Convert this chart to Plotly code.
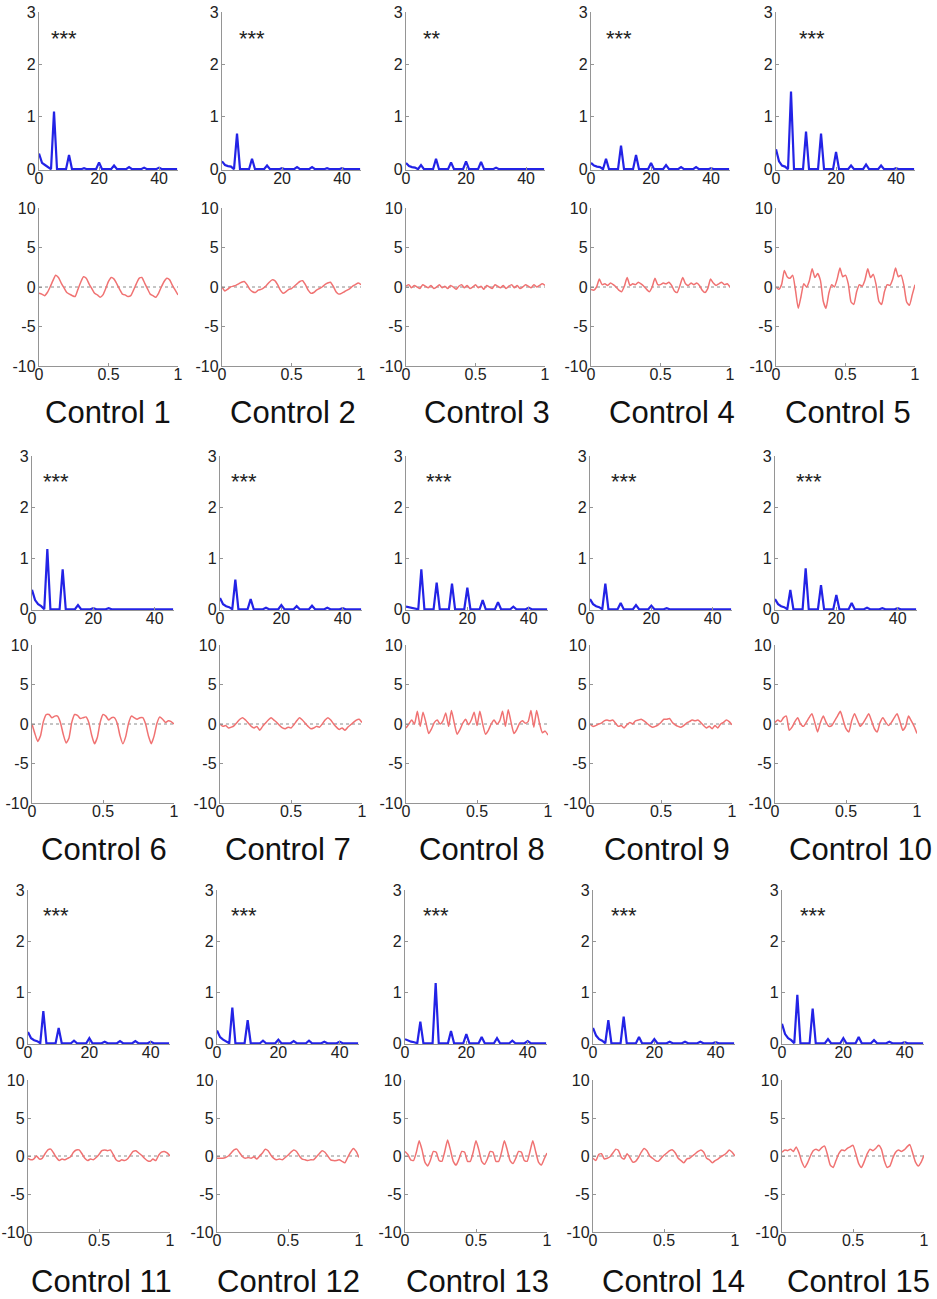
import numpy as np
import plotly.graph_objects as go

# ---------------- DATA ----------------
CONTROLS = ["Control %d" % i for i in range(1, 16)]
SIGNIF = ["***", "***", "**", "***", "***",
          "***", "***", "***", "***", "***",
          "***", "***", "***", "***", "***"]

HARMONICS = [5, 10, 15, 20, 25, 30, 35, 40]   # Hz
LOW_FREQS = [0, 1, 2, 3]                       # Hz
FREQ_GRID = list(range(0, 47))                 # Hz, spectrum sampling
TIME_GRID = np.linspace(0, 1, 51)              # s, waveform sampling

# spectrum amplitude at 0..3 Hz
low_c1 = [0.30, 0.12, 0.08, 0.04]
low_c2 = [0.15, 0.08, 0.06, 0.05]
low_c3 = [0.12, 0.06, 0.04, 0.03]
low_c4 = [0.12, 0.07, 0.05, 0.04]
low_c5 = [0.38, 0.15, 0.07, 0.05]
low_c6 = [0.38, 0.18, 0.10, 0.06]
low_c7 = [0.22, 0.10, 0.06, 0.04]
low_c8 = [0.05, 0.04, 0.03, 0.02]
low_c9 = [0.20, 0.10, 0.06, 0.04]
low_c10 = [0.20, 0.10, 0.06, 0.04]
low_c11 = [0.22, 0.10, 0.06, 0.04]
low_c12 = [0.25, 0.12, 0.07, 0.04]
low_c13 = [0.08, 0.05, 0.03, 0.02]
low_c14 = [0.30, 0.15, 0.08, 0.05]
low_c15 = [0.38, 0.18, 0.10, 0.06]

# spectrum amplitude at the harmonics 5..40 Hz
peaks_c1 = [1.10, 0.27, 0.02, 0.13, 0.07, 0.04, 0.03, 0.03]
peaks_c2 = [0.68, 0.20, 0.07, 0.02, 0.04, 0.04, 0.02, 0.02]
peaks_c3 = [0.08, 0.20, 0.13, 0.15, 0.14, 0.03, 0.01, 0.01]
peaks_c4 = [0.20, 0.45, 0.27, 0.12, 0.08, 0.04, 0.04, 0.02]
peaks_c5 = [1.48, 0.72, 0.68, 0.33, 0.07, 0.09, 0.07, 0.02]
peaks_c6 = [1.18, 0.78, 0.08, 0.02, 0.02, 0.01, 0.01, 0.01]
peaks_c7 = [0.58, 0.20, 0.03, 0.08, 0.06, 0.07, 0.03, 0.02]
peaks_c8 = [0.78, 0.52, 0.50, 0.42, 0.18, 0.14, 0.05, 0.03]
peaks_c9 = [0.50, 0.12, 0.08, 0.07, 0.02, 0.01, 0.01, 0.01]
peaks_c10 = [0.38, 0.80, 0.47, 0.28, 0.12, 0.03, 0.02, 0.02]
peaks_c11 = [0.63, 0.30, 0.05, 0.10, 0.03, 0.04, 0.04, 0.03]
peaks_c12 = [0.70, 0.45, 0.05, 0.07, 0.04, 0.05, 0.03, 0.03]
peaks_c13 = [0.42, 1.18, 0.24, 0.18, 0.12, 0.10, 0.05, 0.04]
peaks_c14 = [0.45, 0.52, 0.12, 0.08, 0.03, 0.03, 0.03, 0.02]
peaks_c15 = [0.95, 0.68, 0.08, 0.10, 0.12, 0.06, 0.03, 0.02]

# time-domain waveforms (51 samples over 0..1 s)
wave_c1 = [-0.8, -0.9, -1.1, -0.7, 0.0, 0.8, 1.5, 1.2, 0.5, -0.1,
           -0.7, -0.9, -1.1, -1.2, -0.3, 0.6, 1.3, 1.1, 0.4, -0.2,
           -0.8, -1.0, -1.3, -1.0, -0.2, 0.7, 1.2, 1.0, 0.4, -0.3,
           -0.9, -1.0, -1.2, -1.1, -0.4, 0.4, 1.1, 1.2, 0.5, -0.2,
           -0.9, -1.1, -1.3, -0.8, 0.0, 0.7, 1.1, 0.9, 0.2, -0.4,
           -1.0]
wave_c2 = [0.0, -0.5, -0.3, 0.0, 0.1, 0.2, 0.4, 0.6, 0.7, 0.3,
           -0.3, -0.6, -0.7, -0.4, -0.3, -0.1, 0.2, 0.6, 0.9, 0.8,
           0.3, -0.4, -0.8, -0.6, -0.3, -0.2, 0.1, 0.4, 0.7, 0.8,
           0.3, -0.4, -0.8, -0.7, -0.4, -0.2, 0.0, 0.3, 0.5, 0.6,
           0.1, -0.6, -0.9, -0.8, -0.6, -0.4, -0.2, 0.1, 0.3, 0.5,
           0.3]
wave_c3 = [0.1, 0.3, -0.1, 0.2, 0.0, -0.2, 0.3, 0.1, -0.1, 0.2,
           -0.2, 0.0, 0.3, -0.1, 0.1, -0.2, 0.2, 0.0, -0.3, 0.1,
           0.3, -0.1, 0.2, -0.2, 0.0, 0.3, -0.1, 0.1, -0.3, 0.2,
           0.0, -0.2, 0.3, 0.1, -0.1, 0.2, -0.2, 0.1, 0.3, -0.1,
           0.2, -0.2, 0.0, 0.3, 0.1, -0.1, 0.3, 0.0, 0.2, 0.4,
           0.2]
wave_c4 = [-0.3, -0.4, 0.0, 1.0, 0.3, 0.4, 0.2, 0.5, 0.3, 0.0,
           -0.4, -0.6, 0.1, 1.2, 0.2, 0.4, 0.3, 0.6, 0.4, 0.1,
           -0.3, -0.6, 0.0, 1.1, 0.3, 0.3, 0.5, 0.4, 0.6, 0.2,
           -0.5, -0.7, 0.2, 1.2, 0.4, 0.2, 0.5, 0.3, 0.5, 0.2,
           -0.4, -0.7, -0.2, 1.0, 0.5, 0.2, 0.4, 0.6, 0.3, 0.4,
           0.0]
wave_c5 = [0.0, -0.3, 0.3, 2.1, 1.3, 1.1, 1.5, -0.4, -2.7, -1.2,
           0.4, 0.0, 0.8, 2.3, 1.2, 1.7, 0.8, -1.8, -2.7, -0.8,
           0.3, 0.0, 1.0, 2.4, 1.3, 1.5, 0.4, -1.9, -2.2, -0.6,
           0.3, 0.1, 0.9, 2.3, 1.2, 1.6, 0.3, -1.8, -2.2, -0.6,
           0.3, 0.2, 1.0, 2.4, 1.3, 1.5, 0.2, -1.9, -2.3, -1.0,
           0.3]
wave_c6 = [0.0, -1.2, -2.2, -1.5, 0.3, 1.2, 1.2, 0.8, 1.0, 1.0,
           0.2, -1.3, -2.4, -1.8, 0.2, 1.2, 1.1, 0.7, 0.8, 0.9,
           0.2, -1.4, -2.5, -1.7, 0.2, 1.2, 1.0, 0.5, 0.8, 0.8,
           0.1, -1.5, -2.5, -1.6, 0.1, 1.0, 0.8, 0.6, 0.8, 0.8,
           0.0, -1.5, -2.5, -1.5, 0.1, 0.9, 0.6, 0.2, 0.4, 0.3,
           0.0]
wave_c7 = [0.0, -0.3, -0.2, -0.5, -0.4, -0.2, 0.2, 0.6, 0.8, 0.5,
           0.1, -0.3, -0.5, -0.3, -0.8, -0.3, 0.1, 0.5, 0.8, 0.5,
           0.2, -0.2, -0.5, -0.6, -0.4, -0.5, -0.1, 0.4, 0.8, 0.5,
           0.1, -0.3, -0.6, -0.5, -0.3, -0.4, 0.0, 0.5, 0.8, 0.5,
           0.0, -0.4, -0.7, -0.5, -0.8, -0.4, -0.1, 0.2, 0.5, 0.6,
           0.2]
wave_c8 = [-0.5, 0.0, 0.5, 0.0, 1.6, -0.3, 1.5, 0.2, -1.2, -0.6,
           0.2, 0.5, 0.0, 0.4, 1.4, -0.3, 1.7, 0.1, -1.3, -0.7,
           0.1, 0.6, -0.1, 0.5, 1.5, -0.2, 1.6, 0.0, -1.3, -0.8,
           0.0, 0.5, 0.0, 0.4, 1.6, -0.3, 1.8, 0.2, -1.2, -0.7,
           0.1, 0.4, 0.1, 0.3, 1.7, -0.4, 1.7, 0.1, -1.1, -0.9,
           -1.4]
wave_c9 = [0.0, -0.3, -0.2, 0.0, 0.1, 0.4, 0.5, 0.4, 0.5, 0.1,
           -0.3, -0.2, -0.5, -0.1, 0.2, 0.0, 0.4, 0.5, 0.6, 0.4,
           0.1, -0.2, -0.4, -0.3, -0.1, 0.2, 0.6, 0.6, 0.7, 0.2,
           -0.1, -0.3, -0.4, -0.2, 0.1, 0.3, 0.5, 0.4, 0.5, 0.2,
           -0.2, -0.5, -0.3, -0.6, -0.2, -0.5, 0.0, 0.2, 0.5, 0.3,
           -0.1]
wave_c10 = [0.2, 0.5, 0.3, 0.8, 1.0, -0.8, -0.4, 0.3, 0.8, 0.0,
            -0.3, 0.2, 0.8, 1.3, 0.2, -1.0, 0.2, 1.0, 0.2, -0.3,
            -0.2, 0.4, 1.0, 1.6, 0.5, -0.6, -1.0, 0.4, 1.3, 0.5,
            -0.3, 0.1, 0.7, 1.3, 0.4, -0.6, -1.0, 0.2, 0.8, 0.2,
            -0.2, 0.2, 0.8, 1.3, 0.3, -0.8, -0.3, 1.0, 0.4, -0.3,
            -1.2]
wave_c11 = [-0.3, -0.5, -0.4, 0.0, -0.4, -0.3, 0.3, 0.8, 0.9, 0.4,
            -0.2, -0.6, -0.4, -0.5, -0.3, -0.1, 0.5, 0.8, 0.8, 0.3,
            -0.3, -0.6, -0.4, -0.5, -0.2, 0.2, 0.7, 0.8, 0.7, 0.8,
            0.2, -0.5, -0.7, -0.5, -0.6, -0.4, 0.1, 0.6, 0.7, 0.4,
            0.1, -0.3, -0.6, -0.7, -0.4, -0.6, 0.1, 0.5, 0.6, 0.4,
            0.0]
wave_c12 = [-0.3, -0.3, -0.3, -0.2, 0.0, 0.4, 0.8, 0.9, 0.4, -0.1,
            -0.3, -0.2, -0.3, -0.1, -0.4, 0.0, 0.4, 0.9, 0.7, 0.1,
            -0.3, -0.5, -0.4, -0.5, -0.2, 0.1, 0.5, 0.8, 0.6, 0.0,
            -0.4, -0.5, -0.6, -0.5, -0.5, -0.1, 0.3, 0.7, 0.5, 0.0,
            -0.5, -0.6, -0.6, -0.5, -0.7, -0.9, -0.2, 0.5, 1.0, 0.6,
            -0.2]
wave_c13 = [0.6, 0.2, -0.5, -0.6, 0.5, 2.0, 0.8, -0.8, -1.3, -0.5,
            0.6, 0.5, -0.6, -0.7, 0.6, 2.1, 0.8, -0.7, -1.2, -0.4,
            0.6, 0.5, -0.7, -0.7, 0.5, 2.0, 0.8, -0.7, -1.1, -0.4,
            0.6, 0.5, -0.7, -0.7, 0.5, 2.0, 0.8, -0.6, -1.0, -0.3,
            0.6, 0.5, -0.6, -0.7, 0.6, 2.0, 0.6, -0.8, -1.2, -0.4,
            0.4]
wave_c14 = [-0.3, -0.6, 0.2, 0.3, -0.4, -0.3, -0.1, 0.4, 0.9, 0.7,
            -0.2, -0.4, 0.3, -0.2, -0.8, -0.7, -0.2, 0.5, 1.0, 0.7,
            0.0, -0.3, -0.6, -0.7, -0.3, 0.1, 0.4, 0.7, 0.8, 0.4,
            -0.3, -0.6, -0.9, -0.4, -0.3, 0.0, 0.3, 0.6, 0.8, 0.5,
            -0.3, -0.5, -0.9, -0.6, -0.4, -0.1, 0.1, 0.4, 0.8, 0.5,
            0.0]
wave_c15 = [0.5, 0.8, 0.7, 0.9, 0.6, 1.2, 0.4, -0.8, -1.5, -0.9,
            0.0, 0.7, 0.9, 0.7, 1.1, 1.3, 0.2, -1.2, -1.5, -0.6,
            0.3, 0.8, 0.7, 1.0, 1.2, 1.4, 0.3, -1.0, -1.5, -0.7,
            0.3, 0.9, 0.7, 1.0, 1.4, 0.9, -0.6, -1.5, -1.3, -0.3,
            0.5, 0.8, 0.6, 0.8, 1.2, 1.5, 0.4, -0.8, -1.3, -0.8,
            0.1]

SPEC_X_TICKS = [0, 20, 40]
SPEC_Y_TICKS = [0, 1, 2, 3]
TIME_X_TICKS = [0, 0.5, 1]
TIME_Y_TICKS = [-10, -5, 0, 5, 10]
TIME_X_LABELS = ["0", "0.5", "1"]
TIME_Y_LABELS = ["-10", "-5", "0", "5", "10"]

LOWS = [low_c1, low_c2, low_c3, low_c4, low_c5, low_c6, low_c7, low_c8,
        low_c9, low_c10, low_c11, low_c12, low_c13, low_c14, low_c15]
PEAKS = [peaks_c1, peaks_c2, peaks_c3, peaks_c4, peaks_c5, peaks_c6, peaks_c7,
         peaks_c8, peaks_c9, peaks_c10, peaks_c11, peaks_c12, peaks_c13,
         peaks_c14, peaks_c15]
WAVES = [wave_c1, wave_c2, wave_c3, wave_c4, wave_c5, wave_c6, wave_c7,
         wave_c8, wave_c9, wave_c10, wave_c11, wave_c12, wave_c13, wave_c14,
         wave_c15]

# ---------------- LAYOUT (pixels) ----------------
W, H = 937, 1299
ROW_SPEC_Y = [(12, 170), (456, 610), (890, 1044)]
ROW_TIME_Y = [(208, 366), (645, 803), (1080, 1232)]
COL_X0 = [[39, 222, 406, 591, 776],
          [32, 220, 406, 590, 775],
          [28, 217, 405, 593, 782]]
COL_W = [139, 142, 142]
LABEL_Y = [412, 850, 1281]
LABEL_X = [[108, 293, 487, 672, 848],
           [104, 288, 482, 667, 860],
           [101, 288, 478, 673, 858]]
STAR_X = [8.4, 10, 8.7, 9.4, 12, 7.7, 7.7, 10.7, 11, 11, 9, 8.7, 10, 10, 10]
STAR_Y = 2.5

BLUE = "#2323e6"
RED = "#f07272"
AXIS_COLOR = "#959595"
FONT = "Arial, Liberation Sans, sans-serif"
TICK_FONT = dict(family=FONT, size=16, color="#222222")

fig = go.Figure()
layout = dict(template="none", width=W, height=H, margin=dict(l=0, r=0, t=0, b=0, pad=0),
              paper_bgcolor="white", plot_bgcolor="white", showlegend=False)
annotations = []
shapes = []

def axis_common(standoff):
    return dict(showgrid=False, zeroline=False, showline=True, linecolor=AXIS_COLOR,
                linewidth=1.4, ticks="inside", ticklen=3, tickcolor=AXIS_COLOR,
                tickfont=TICK_FONT, tickmode="array", automargin=False,
                ticklabelstandoff=standoff)

for i in range(15):
    r, c = divmod(i, 5)
    x0 = COL_X0[r][c]
    w = COL_W[r]
    xdom = [x0 / W, (x0 + w) / W]
    sa, ta = 2 * i + 1, 2 * i + 2

    # spectrum assembled from the low-frequency values and harmonic peaks
    spec = [0.0] * len(FREQ_GRID)
    for f, v in zip(LOW_FREQS, LOWS[i]):
        spec[f] = v
    for f, v in zip(HARMONICS, PEAKS[i]):
        spec[f] = v

    fig.add_trace(go.Scatter(x=FREQ_GRID, y=spec, mode="lines",
                             line=dict(color=BLUE, width=2.2),
                             xaxis="x%d" % sa, yaxis="y%d" % sa, hoverinfo="skip"))
    fig.add_trace(go.Scatter(x=TIME_GRID, y=WAVES[i], mode="lines",
                             line=dict(color=RED, width=1.5, shape="spline", smoothing=0.5),
                             xaxis="x%d" % ta, yaxis="y%d" % ta, hoverinfo="skip"))

    st, sb = ROW_SPEC_Y[r]
    tt, tb = ROW_TIME_Y[r]
    xs = axis_common(-6); xs.update(domain=xdom, range=[0, 46.3], tickvals=SPEC_X_TICKS,
                                    anchor="y%d" % sa)
    ys = axis_common(-1); ys.update(domain=[1 - sb / H, 1 - st / H], range=[-0.015, 3],
                                    tickvals=SPEC_Y_TICKS, anchor="x%d" % sa)
    xt = axis_common(-6); xt.update(domain=xdom, range=[0, 1], tickvals=TIME_X_TICKS,
                                    ticktext=TIME_X_LABELS, anchor="y%d" % ta)
    yt = axis_common(-1); yt.update(domain=[1 - tb / H, 1 - tt / H], range=[-10, 10],
                                    tickvals=TIME_Y_TICKS, ticktext=TIME_Y_LABELS,
                                    anchor="x%d" % ta)
    layout["xaxis%d" % sa] = xs
    layout["yaxis%d" % sa] = ys
    layout["xaxis%d" % ta] = xt
    layout["yaxis%d" % ta] = yt

    shapes.append(dict(type="line", xref="x%d domain" % ta, yref="y%d" % ta,
                       x0=0, x1=1, y0=0, y1=0,
                       line=dict(color="#8a8a8a", width=1, dash="dot"), layer="below"))

    annotations.append(dict(xref="x%d" % sa, yref="y%d" % sa, x=STAR_X[i], y=STAR_Y,
                            text=SIGNIF[i], showarrow=False,
                            font=dict(family=FONT, size=22, color="#222222")))
    annotations.append(dict(xref="paper", yref="paper", x=LABEL_X[r][c] / W,
                            y=1 - LABEL_Y[r] / H, xanchor="center", yanchor="middle",
                            text=CONTROLS[i], showarrow=False,
                            font=dict(family=FONT, size=31, color="#111111")))

layout["annotations"] = annotations
layout["shapes"] = shapes
fig.update_layout(**layout)
fig.write_html("out.html", config={"displayModeBar": False},
               post_script="document.body.style.margin='0px';document.body.style.padding='0px';")
